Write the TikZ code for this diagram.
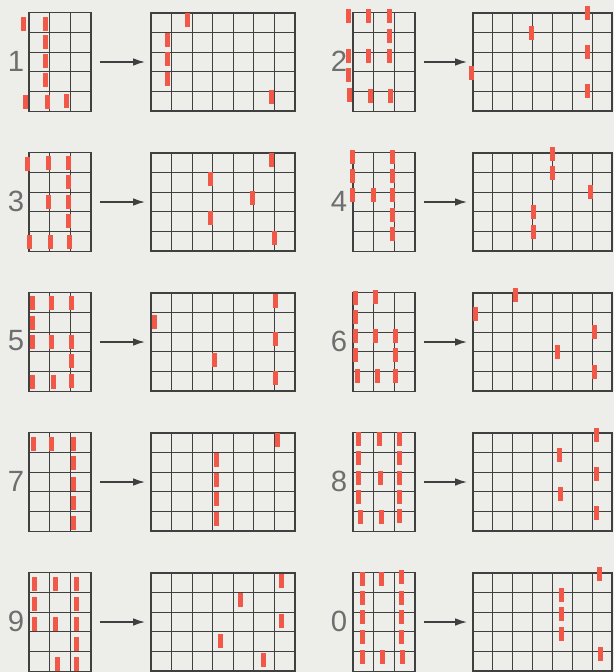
\documentclass[tikz,border=0pt]{standalone}
\usepackage{fontspec}
\usepackage{tikz}
\usetikzlibrary{arrows.meta,calc}
\newfontfamily\digitfont{Liberation Sans}
\definecolor{PaperGray}{RGB}{237,237,234}
\definecolor{GridInk}{RGB}{64,64,64}
\definecolor{MarkRed}{RGB}{242,88,72}
\definecolor{DigitInk}{RGB}{110,110,110}
\tikzset{
  frame/.style={
    draw=GridInk,
    line width=1.5pt,
    inner sep=0pt,
    outer sep=0pt
  },
  smallgrid/.style={
    frame,
    minimum width=18.6mm,
    minimum height=29.7mm
  },
  biggrid/.style={
    frame,
    minimum width=43.2mm,
    minimum height=29.4mm
  },
  rule/.style={draw=GridInk,line width=0.75pt},
  digit/.style={
    font=\digitfont\fontsize{25}{25}\selectfont,
    text=DigitInk,
    inner sep=0pt
  },
  arrow/.style={
    -{Latex[length=3.6mm,width=2.3mm]},
    draw=GridInk,
    line width=1.2pt,
    shorten <=2.6mm,
    shorten >=1.8mm
  },
  bar/.style={fill=MarkRed}
}

% inner rules of a grid: node, columns, rows
\newcommand{\gridrules}[3]{%
  \pgfmathtruncatemacro{\lastcol}{#2-1}%
  \pgfmathtruncatemacro{\lastrow}{#3-1}%
  \foreach \i in {1,...,\lastcol}
    \draw[rule] ($(#1.north west)!\i/#2!(#1.north east)$) -- ($(#1.south west)!\i/#2!(#1.south east)$);
  \foreach \j in {1,...,\lastrow}
    \draw[rule] ($(#1.north west)!\j/#3!(#1.south west)$) -- ($(#1.north east)!\j/#3!(#1.south east)$);
}

% red bars of a grid: node, column width, row height, list column/row
\newcommand{\redbars}[4]{%
  \begin{scope}[shift={(#1.north west)},x=#2,y=-#3]
    \foreach \c/\r in {#4}
      \fill[bar] (\c,\r) ++(-0.75mm,-2.1mm) rectangle ++(1.5mm,4.2mm);
  \end{scope}%
}

\begin{document}
\begin{tikzpicture}[x=0.3mm,y=-0.3mm]

\fill[PaperGray] (0,0) rectangle (614,672);
\useasboundingbox (0,0) rectangle (614,672);

% left column
\node[digit] (d1) at (16,61) {1};
\node[smallgrid] (s1) at (60,62) {};
\node[biggrid] (b1) at (223,62) {};

\node[digit] (d3) at (16,201) {3};
\node[smallgrid] (s3) at (60,202) {};
\node[biggrid] (b3) at (223,202) {};

\node[digit] (d5) at (16,341) {5};
\node[smallgrid] (s5) at (60,342) {};
\node[biggrid] (b5) at (223,342) {};

\node[digit] (d7) at (16,481) {7};
\node[smallgrid] (s7) at (60,482) {};
\node[biggrid] (b7) at (223,482) {};

\node[digit] (d9) at (16,621) {9};
\node[smallgrid] (s9) at (60,622) {};
\node[biggrid] (b9) at (223,622) {};

% right column
\node[digit] (d2) at (339,61) {2};
\node[smallgrid] (s2) at (384,62) {};
\node[biggrid,minimum width=41.7mm] (b2) at (542.5,62) {};

\node[digit] (d4) at (339,201) {4};
\node[smallgrid] (s4) at (384,202) {};
\node[biggrid,minimum width=41.7mm] (b4) at (542.5,202) {};

\node[digit] (d6) at (339,341) {6};
\node[smallgrid] (s6) at (384,342) {};
\node[biggrid,minimum width=41.7mm] (b6) at (542.5,342) {};

\node[digit] (d8) at (339,481) {8};
\node[smallgrid] (s8) at (384,482) {};
\node[biggrid,minimum width=41.7mm] (b8) at (542.5,482) {};

\node[digit] (d0) at (339,621) {0};
\node[smallgrid] (s0) at (384,622) {};
\node[biggrid,minimum width=41.7mm] (b0) at (542.5,622) {};

\foreach \n in {1,2,3,4,5,6,7,8,9,0} {
  \gridrules{s\n}{3}{5}
  \gridrules{b\n}{7}{5}
  \draw[arrow] (s\n) -- (b\n);
}

% small grids
\redbars{s1}{6.2mm}{5.94mm}{-0.26/0.56,0.8/0.56,0.82/1.5,0.82/2.47,0.82/3.4,-0.18/4.5,0.91/4.5,1.83/4.47}
\redbars{s2}{6.2mm}{5.94mm}{-0.21/0.2,0.77/0.2,1.77/0.2,1.77/1.17,-0.21/2.2,0.77/2.2,1.77/2.2,-0.21/3.18,-0.16/4.19,0.83/4.2,1.82/4.2}
\redbars{s3}{6.2mm}{5.94mm}{-0.08/0.58,0.95/0.55,1.93/0.53,1.93/1.49,0.95/2.48,1.93/2.48,1.93/3.47,0.03/4.52,1.04/4.52,1.96/4.5}
\redbars{s4}{6.2mm}{5.94mm}{-0.03/0.23,-0.03/1.2,-0.03/2.16,0.97/2.16,1.9/0.23,1.9/1.2,1.9/2.16,1.9/3.14,1.9/4.14}
\redbars{s5}{6.2mm}{5.94mm}{0.16/0.55,1.11/0.55,2.04/0.55,0.16/1.52,0.16/2.49,1.11/2.49,2.04/2.49,2.04/3.48,0.16/4.5,1.17/4.5,2.04/4.48}
\redbars{s6}{6.2mm}{5.94mm}{0.11/0.27,1.1/0.23,0.11/1.22,0.11/2.18,1.1/2.18,2.08/2.18,0.11/3.18,2.08/3.18,0.2/4.2,1.2/4.2,2.08/4.2}
\redbars{s7}{6.2mm}{5.94mm}{0.21/0.56,1.11/0.56,2.15/0.56,2.15/1.54,2.15/2.58,2.15/3.58,2.15/4.58}
\redbars{s8}{6.2mm}{5.94mm}{0.26/0.32,1.26/0.32,2.23/0.32,0.26/1.3,2.23/1.3,0.26/2.28,1.31/2.28,2.23/2.28,0.29/3.28,2.26/3.28,0.34/4.28,1.39/4.28,2.26/4.22}
\redbars{s9}{6.2mm}{5.94mm}{0.28/0.6,1.3/0.6,2.3/0.6,0.28/1.6,2.3/1.6,0.28/2.6,1.3/2.6,2.3/2.6,2.3/3.6,1.37/4.6,2.3/4.6}
\redbars{s0}{6.2mm}{5.94mm}{0.44/0.34,1.36/0.34,2.35/0.25,0.44/1.31,2.35/1.31,0.44/2.27,2.35/2.27,0.44/3.28,2.35/3.28,0.47/4.28,1.44/4.28,2.38/4.28}

% big grids
\redbars{b1}{6.171mm}{5.88mm}{1.79/0.36,0.81/1.37,0.81/2.35,0.81/3.35,5.86/4.28}
\redbars{b3}{6.171mm}{5.88mm}{5.87/0.34,2.89/1.34,4.93/2.28,2.89/3.32,5.98/4.32}
\redbars{b5}{6.171mm}{5.88mm}{6.03/0.41,0.15/1.47,6.03/2.34,3.08/3.42,6.03/4.34}
\redbars{b7}{6.171mm}{5.88mm}{6.13/0.36,3.19/1.37,3.19/2.39,3.19/3.38,3.19/4.37}
\redbars{b9}{6.171mm}{5.88mm}{6.36/0.39,4.36/1.4,6.36/2.44,3.38/3.48,5.47/4.45}
\redbars{b2}{5.957mm}{5.88mm}{5.79/0.0,2.95/1.03,5.79/2.0,-0.1/3.07,5.79/4.0}
\redbars{b4}{5.957mm}{5.88mm}{3.99/0.05,3.99/1.03,5.9/1.97,3.07/3.03,3.07/4.05}
\redbars{b6}{5.957mm}{5.88mm}{2.13/0.1,0.15/1.08,6.12/1.97,4.28/3.02,6.12/4.03}
\redbars{b8}{5.957mm}{5.88mm}{6.21/0.08,4.36/1.1,6.21/2.09,4.4/3.1,6.21/4.06}
\redbars{b0}{5.957mm}{5.88mm}{6.38/0.05,4.48/1.1,4.48/2.1,4.48/3.1,6.41/4.15}

\end{tikzpicture}
\end{document}
